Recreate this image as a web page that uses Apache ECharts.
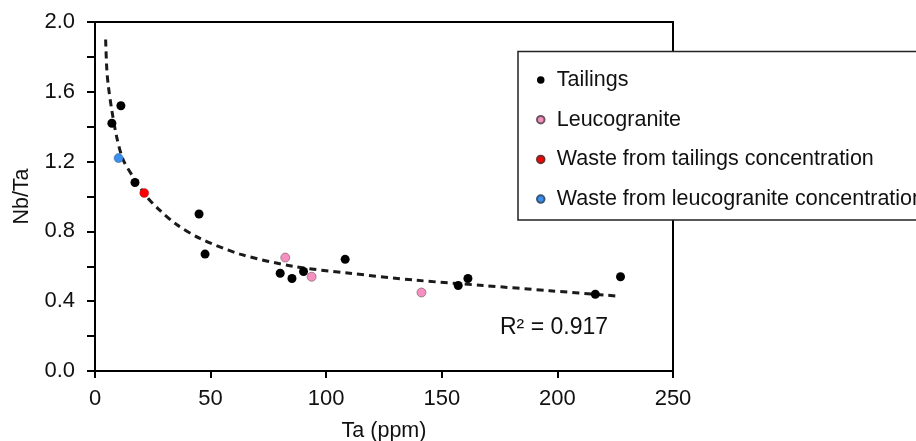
<!DOCTYPE html>
<html>
<head>
<meta charset="utf-8">
<script src="https://cdn.jsdelivr.net/npm/echarts@6/dist/echarts.min.js"></script>
<style>
  html, body { margin: 0; padding: 0; background: #fff; }
  #chart { width: 916px; height: 441px; }
</style>
</head>
<body>
<div id="chart"></div>
<script>
// values, [Ta (ppm), Nb/Ta]
var tailings = [
    [7.3, 1.42], [11.2, 1.52], [17.3, 1.08], [45.0, 0.90], [47.6, 0.67],
    [80.1, 0.56], [85.2, 0.53], [90.2, 0.57], [108.2, 0.64], [157.1, 0.49],
    [161.3, 0.53], [216.4, 0.44], [227.3, 0.54]
];
var leucogranite = [[82.3, 0.65], [93.7, 0.54], [141.2, 0.45]];
var wasteTailings = [[21.3, 1.02]];
var wasteLeuco = [[10.2, 1.22]];
// dashed power trend line
var trend = [
    [4.6, 1.90], [5.1, 1.73], [5.8, 1.63], [7.2, 1.50], [9.4, 1.34],
    [12.2, 1.21], [16.6, 1.11], [22.3, 1.00], [28.1, 0.92], [35.3, 0.84],
    [45.4, 0.76], [62.7, 0.67], [85.7, 0.60], [110.2, 0.56], [139.1, 0.52],
    [167.9, 0.49], [196.7, 0.46], [225.5, 0.43]
];
var r2Label = 'R\u00b2 = 0.917';

var font = 'Liberation Sans, Arial, sans-serif';
var chart = echarts.init(document.getElementById('chart'));

var option = {
    animation: false,
    grid: {
        left: 95,
        right: 243,
        top: 22,
        bottom: 70,
        outerBoundsMode: 'none',
        containLabel: false,
        show: true,
        borderColor: '#000',
        borderWidth: 2
    },
    xAxis: {
        type: 'value',
        min: 0,
        max: 250,
        interval: 50,
        name: 'Ta (ppm)',
        nameLocation: 'middle',
        nameGap: 49,
        nameTextStyle: { fontSize: 21.5, color: '#111', fontFamily: font },
        axisLine: { lineStyle: { color: '#000', width: 2 } },
        axisTick: { length: 7, lineStyle: { color: '#000', width: 2 } },
        axisLabel: { fontSize: 22, color: '#111', fontFamily: font, margin: 17 },
        splitLine: { show: false }
    },
    yAxis: {
        type: 'value',
        min: 0,
        max: 2,
        interval: 0.2,
        name: 'Nb/Ta',
        nameLocation: 'middle',
        nameRotate: 90,
        nameGap: 62,
        nameTextStyle: { fontSize: 21.5, color: '#111', fontFamily: font },
        axisLine: { lineStyle: { color: '#000', width: 2 } },
        axisTick: { length: 8, lineStyle: { color: '#000', width: 2 } },
        axisLabel: {
            fontSize: 22,
            color: '#111',
            fontFamily: font,
            margin: 20,
            formatter: function (v) {
                var k = Math.round(v * 10);
                return k % 4 === 0 ? (k / 10).toFixed(1) : '';
            }
        },
        splitLine: { show: false }
    },
    legend: {
        orient: 'vertical',
        left: 536,
        top: 69,
        padding: 0,
        z: 20,
        icon: 'circle',
        itemWidth: 22,
        itemHeight: 7.5,
        itemGap: 17.7,
        textStyle: { fontSize: 21.5, color: '#111', fontFamily: font },
        data: ['Tailings', 'Leucogranite', 'Waste from tailings concentration', 'Waste from leucogranite concentration']
    },
    graphic: [{
        type: 'rect',
        z: 10,
        shape: { x: 518, y: 51.5, width: 450, height: 168.5 },
        style: { fill: '#fff', stroke: '#222', lineWidth: 1.5 }
    }, {
        type: 'text',
        z: 10,
        left: 500,
        top: 316,
        style: { text: r2Label, fontSize: 23, fill: '#111', fontFamily: font }
    }],
    series: [{
        name: 'trend',
        type: 'line',
        data: trend,
        smooth: 0.3,
        showSymbol: false,
        silent: true,
        z: 1,
        lineStyle: { color: '#1a1a1a', width: 3, type: [7, 5] }
    }, {
        name: 'Tailings',
        type: 'scatter',
        data: tailings,
        symbolSize: 9,
        itemStyle: { color: '#000', opacity: 1 }
    }, {
        name: 'Leucogranite',
        type: 'scatter',
        data: leucogranite,
        symbolSize: 9,
        itemStyle: { color: '#f690c0', borderColor: '#6b5560', borderWidth: 0.6, opacity: 1 }
    }, {
        name: 'Waste from tailings concentration',
        type: 'scatter',
        data: wasteTailings,
        symbolSize: 9,
        itemStyle: { color: '#ff0000', borderColor: '#6b3030', borderWidth: 0.4, opacity: 1 }
    }, {
        name: 'Waste from leucogranite concentration',
        type: 'scatter',
        data: wasteLeuco,
        symbolSize: 9,
        itemStyle: { color: '#3b8ff0', borderColor: '#3a5575', borderWidth: 0.5, opacity: 1 }
    }]
};
chart.setOption(option);
</script>
</body>
</html>
